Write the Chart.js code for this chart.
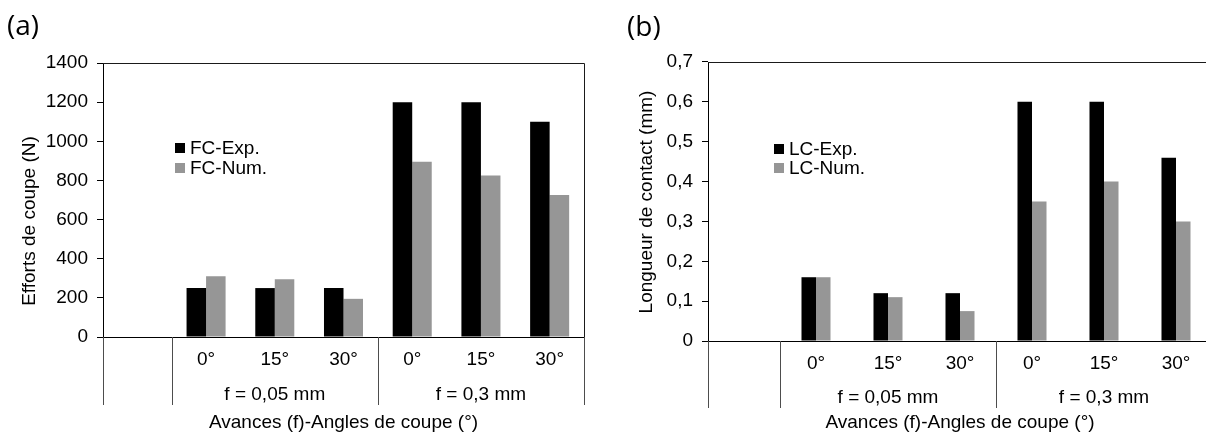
<!DOCTYPE html>
<html><head><meta charset="utf-8">
<script src="https://cdn.jsdelivr.net/npm/chart.js@4"></script>
<style>
html,body{margin:0;padding:0;background:#fff;overflow:hidden;width:1206px;height:432px;position:relative;}
#ca{position:absolute;left:0;top:0;}
#cb{position:absolute;left:600px;top:0;}
</style></head><body>
<canvas id="ca" width="600" height="432"></canvas>
<canvas id="cb" width="620" height="432"></canvas>
<script>
// ---- data ----
const categories = ['', '0°', '15°', '30°', '0°', '15°', '30°'];
const groupLabels = ['f = 0,05 mm', 'f = 0,3 mm'];
const groupCenters = [2, 5];           // category index at centre of each group
const groupBounds = [0, 1, 4, 7];      // category boundaries with separators
const fcExp = [null, 250, 250, 250, 1200, 1200, 1100];
const fcNum = [null, 310, 295, 195, 895, 825, 725];
const lcExp = [null, 0.16, 0.12, 0.12, 0.60, 0.60, 0.46];
const lcNum = [null, 0.16, 0.11, 0.075, 0.35, 0.40, 0.30];
const ticksA = ['0', '200', '400', '600', '800', '1000', '1200', '1400'];
const ticksB = ['0', '0,1', '0,2', '0,3', '0,4', '0,5', '0,6', '0,7'];

const FONT = "'Liberation Sans', Arial, sans-serif";
const FS = 19;
const BLACK = '#000000';
const GRAY = '#969696';

const decor = {
  id: 'decor',
  afterDraw(chart, args, o) {
    const ctx = chart.ctx;
    const a = chart.chartArea;
    const xs = chart.scales.x;
    const half = (xs.getPixelForValue(1) - xs.getPixelForValue(0)) / 2;
    ctx.save();
    // plot border (top + right)
    ctx.strokeStyle = '#1a1a1a';
    ctx.lineWidth = 1;
    ctx.beginPath();
    ctx.moveTo(a.left, a.top + 0.5);
    ctx.lineTo(a.right + 0.5, a.top + 0.5);
    ctx.lineTo(a.right + 0.5, a.bottom);
    ctx.stroke();
    // separators below axis
    ctx.strokeStyle = '#4d4d4d';
    ctx.beginPath();
    groupBounds.forEach(b => {
      const x = Math.round(b < categories.length ? xs.getPixelForValue(b) - half : xs.getPixelForValue(categories.length - 1) + half) + 0.5;
      ctx.moveTo(x, a.bottom);
      ctx.lineTo(x, o.sepBottom);
    });
    ctx.stroke();
    // group labels
    ctx.fillStyle = BLACK;
    ctx.font = FS + 'px ' + FONT;
    ctx.textAlign = 'center';
    ctx.textBaseline = 'middle';
    groupLabels.forEach((g, i) => ctx.fillText(g, xs.getPixelForValue(groupCenters[i]), o.groupY));
    // y-axis title
    ctx.save();
    ctx.translate(o.yTitleX, o.yTitleY);
    ctx.rotate(-Math.PI / 2);
    ctx.fillText(o.yTitle, 0, 0);
    ctx.restore();
    // legend
    ctx.textAlign = 'left';
    chart.data.datasets.forEach((ds, i) => {
      const y = o.legendY + i * o.legendGap;
      ctx.fillStyle = ds.backgroundColor;
      ctx.fillRect(o.legendX, y - 5, 10, 10);
      ctx.fillStyle = BLACK;
      ctx.fillText(ds.label, o.legendX + 15, y + 1);
    });
    // panel label
    ctx.font = o.panelSize + "px 'Open Sans', 'Noto Sans', sans-serif";
    ctx.fillText(o.panel, o.panelX, o.panelY);
    ctx.restore();
  }
};

function makeChart(id, cfg) {
  return new Chart(document.getElementById(id), {
    type: 'bar',
    data: {
      labels: categories,
      datasets: [
        { label: cfg.names[0], data: cfg.exp, backgroundColor: BLACK, borderWidth: 0 },
        { label: cfg.names[1], data: cfg.num, backgroundColor: GRAY, borderWidth: 0 }
      ]
    },
    options: {
      responsive: false,
      animation: false,
      devicePixelRatio: 1,
      layout: { padding: { top: cfg.padTop, right: cfg.padRight, left: 0, bottom: 0 } },
      categoryPercentage: cfg.catPct,
      barPercentage: 1,
      plugins: {
        legend: { display: false },
        tooltip: { enabled: false },
        decor: cfg.decor
      },
      scales: {
        x: {
          afterFit: s => { s.height = cfg.xHeight; },
          grid: { display: false },
          border: { display: true, color: '#000', width: 1 },
          ticks: { color: BLACK, font: { family: FONT, size: FS }, padding: cfg.xTickPad, maxRotation: 0, autoSkip: false },
          title: { display: true, text: 'Avances (f)-Angles de coupe (°)', color: BLACK,
                   font: { family: FONT, size: FS, lineHeight: 1 }, padding: { top: 0, bottom: cfg.xTitlePad } }
        },
        y: {
          afterFit: s => { s.width = cfg.yWidth; },
          min: 0, max: cfg.max,
          afterBuildTicks: s => { s.ticks = cfg.ticks.map((t, i) => ({ value: i * cfg.step })); },
          grid: { drawOnChartArea: false, drawTicks: true, tickLength: 6, color: '#000' },
          border: { display: true, color: '#000', width: 1 },
          ticks: { color: BLACK, font: { family: FONT, size: FS }, padding: 9,
                   callback: (v, i) => cfg.ticks[i] }
        }
      }
    },
    plugins: [decor]
  });
}

makeChart('ca', {
  names: ['FC-Exp.', 'FC-Num.'], exp: fcExp, num: fcNum,
  ticks: ticksA, max: 1400, step: 200,
  padTop: 63, padRight: 16, yWidth: 103, xHeight: 95, catPct: 0.568,
  xTickPad: 3, xTitlePad: 0,
  decor: { sepBottom: 405, groupY: 395, legendX: 175, legendY: 148, legendGap: 20,
           yTitle: 'Efforts de coupe (N)', yTitleX: 30, yTitleY: 221,
           panel: '(a)', panelX: 7, panelY: 27, panelSize: 28 }
});

makeChart('cb', {
  names: ['LC-Exp.', 'LC-Num.'], exp: lcExp, num: lcNum,
  ticks: ticksB, max: 0.7, step: 0.1,
  padTop: 62, padRight: 8, yWidth: 108, xHeight: 91, catPct: 0.403,
  xTickPad: 3, xTitlePad: 0,
  decor: { sepBottom: 408, groupY: 398, legendX: 174, legendY: 149, legendGap: 19,
           yTitle: 'Longueur de contact (mm)', yTitleX: 47, yTitleY: 202,
           panel: '(b)', panelX: 27, panelY: 28, panelSize: 28 }
});
</script>
</body></html>
